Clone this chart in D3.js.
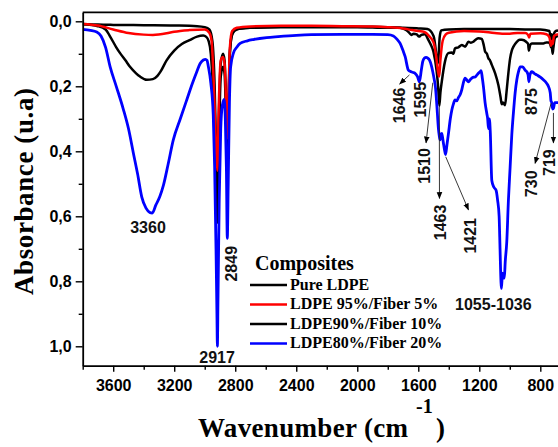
<!DOCTYPE html>
<html>
<head>
<meta charset="utf-8">
<script src="https://cdn.jsdelivr.net/npm/d3@7"></script>
<style>
  html, body { margin: 0; padding: 0; background: #fff; }
  svg { display: block; }
</style>
</head>
<body>
<svg id="chart" width="558" height="447"></svg>
<script>
// ---------------- DATA ----------------
// [wavenumber (cm-1), absorbance]
const pureLDPE = [
  [3800,0.008],[3700,0.010],[3600,0.011],[3400,0.012],[3200,0.013],[3050,0.015],[3000,0.018],
  [2970,0.025],[2950,0.06],[2935,0.2],[2925,0.4],[2917,0.52],[2910,0.35],[2895,0.13],[2880,0.1],
  [2870,0.12],[2860,0.25],[2852,0.4],[2845,0.3],[2835,0.1],[2820,0.04],[2800,0.025],[2700,0.02],
  [2500,0.018],[2200,0.018],[2000,0.018],[1800,0.02],[1700,0.02],[1600,0.022],[1540,0.024],
  [1500,0.045],[1485,0.09],[1478,0.125],[1472,0.13],[1466,0.1],[1460,0.05],[1450,0.028],
  [1400,0.025],[1300,0.024],[1200,0.024],[1100,0.024],[1000,0.024],[900,0.025],[800,0.025],
  [740,0.03],[730,0.06],[725,0.04],[719,0.09],[712,0.04],[700,0.03],[684,0.028]
];
const ldpe95 = [
  [3800,0.008],[3700,0.013],[3600,0.025],[3500,0.036],[3400,0.041],[3340,0.042],[3250,0.037],
  [3200,0.032],[3100,0.027],[3000,0.025],[2970,0.035],[2955,0.06],[2940,0.2],[2925,0.4],
  [2917,0.46],[2910,0.3],[2895,0.12],[2880,0.11],[2870,0.13],[2860,0.25],[2852,0.36],[2845,0.25],
  [2835,0.08],[2820,0.03],[2790,0.02],[2700,0.016],[2500,0.014],[2300,0.014],[2100,0.015],
  [1900,0.016],[1800,0.018],[1700,0.022],[1640,0.027],[1600,0.03],[1560,0.033],[1530,0.045],
  [1500,0.065],[1485,0.1],[1472,0.15],[1463,0.17],[1455,0.12],[1440,0.06],[1420,0.04],
  [1400,0.035],[1300,0.03],[1200,0.031],[1100,0.036],[1050,0.038],[1000,0.038],[950,0.036],
  [900,0.036],[880,0.042],[873,0.05],[865,0.038],[800,0.037],[760,0.04],[740,0.05],[730,0.075],
  [722,0.06],[719,0.07],[710,0.045],[684,0.04]
];
const ldpe90 = [
  [3800,0.009],[3700,0.015],[3650,0.025],[3620,0.047],[3580,0.08],[3555,0.098],[3520,0.12],
  [3490,0.14],[3450,0.16],[3424,0.17],[3380,0.18],[3340,0.178],[3310,0.168],[3290,0.155],
  [3250,0.12],[3200,0.09],[3150,0.07],[3100,0.058],[3050,0.047],[3010,0.044],[2990,0.048],
  [2975,0.06],[2960,0.1],[2945,0.22],[2930,0.45],[2917,0.62],[2908,0.4],[2895,0.17],[2880,0.14],
  [2870,0.16],[2860,0.3],[2852,0.48],[2845,0.3],[2835,0.09],[2820,0.04],[2790,0.025],[2700,0.02],
  [2500,0.017],[2200,0.017],[1900,0.017],[1800,0.018],[1720,0.02],[1680,0.027],[1660,0.035],
  [1646,0.042],[1630,0.038],[1610,0.04],[1595,0.047],[1580,0.042],[1557,0.04],[1534,0.057],
  [1520,0.07],[1501,0.093],[1479,0.155],[1470,0.2],[1462,0.26],[1455,0.22],[1446,0.186],
  [1425,0.124],[1403,0.098],[1380,0.096],[1370,0.1],[1359,0.083],[1337,0.08],[1315,0.073],
  [1293,0.078],[1271,0.063],[1255,0.066],[1239,0.063],[1220,0.055],[1206,0.052],[1184,0.054],
  [1170,0.075],[1162,0.093],[1150,0.1],[1140,0.114],[1130,0.12],[1118,0.134],[1096,0.16],
  [1075,0.196],[1060,0.235],[1053,0.255],[1045,0.25],[1031,0.258],[1022,0.22],[1015,0.186],
  [998,0.114],[987,0.09],[976,0.078],[954,0.063],[935,0.057],[921,0.057],[893,0.063],[880,0.07],
  [875,0.09],[868,0.075],[856,0.068],[823,0.068],[780,0.068],[760,0.065],[747,0.065],[735,0.07],
  [730,0.08],[725,0.078],[719,0.1],[714,0.08],[703,0.05],[684,0.045]
];
const ldpe80 = [
  [3800,0.025],[3750,0.028],[3708,0.033],[3680,0.045],[3650,0.08],[3620,0.14],[3580,0.2],
  [3534,0.27],[3500,0.33],[3468,0.405],[3440,0.47],[3413,0.54],[3385,0.575],[3360,0.588],
  [3344,0.59],[3320,0.565],[3295,0.54],[3271,0.505],[3240,0.44],[3206,0.365],[3160,0.3],
  [3118,0.242],[3080,0.19],[3052,0.155],[3030,0.13],[3009,0.119],[2995,0.117],[2985,0.12],
  [2976,0.14],[2960,0.19],[2944,0.29],[2935,0.45],[2926,0.7],[2920,0.9],[2917,1.0],[2913,0.85],
  [2905,0.55],[2895,0.33],[2885,0.26],[2873,0.24],[2865,0.3],[2858,0.45],[2852,0.668],
  [2846,0.5],[2838,0.25],[2830,0.14],[2812,0.098],[2790,0.08],[2768,0.068],[2720,0.06],
  [2681,0.056],[2594,0.05],[2519,0.047],[2400,0.043],[2300,0.041],[2100,0.04],[1900,0.04],
  [1800,0.041],[1763,0.045],[1740,0.055],[1719,0.068],[1700,0.09],[1686,0.109],[1665,0.15],
  [1647,0.155],[1630,0.158],[1621,0.16],[1605,0.17],[1593,0.186],[1580,0.15],[1571,0.124],
  [1560,0.113],[1549,0.111],[1538,0.113],[1527,0.119],[1515,0.135],[1505,0.155],[1495,0.18],
  [1488,0.2],[1478,0.26],[1468,0.33],[1463,0.35],[1457,0.365],[1452,0.35],[1446,0.345],
  [1440,0.36],[1435,0.375],[1428,0.395],[1421,0.41],[1412,0.38],[1402,0.345],[1390,0.3],
  [1380,0.273],[1370,0.255],[1359,0.242],[1348,0.245],[1337,0.235],[1325,0.225],[1315,0.211],
  [1305,0.19],[1293,0.175],[1283,0.18],[1271,0.186],[1260,0.18],[1249,0.175],[1238,0.172],
  [1228,0.172],[1215,0.165],[1206,0.16],[1195,0.155],[1188,0.152],[1180,0.175],[1173,0.2],
  [1162,0.25],[1151,0.283],[1145,0.3],[1140,0.33],[1134,0.3],[1128,0.34],[1118,0.49],
  [1105,0.51],[1090,0.52],[1080,0.55],[1070,0.6],[1064,0.7],[1058,0.8],[1055,0.822],
  [1048,0.775],[1042,0.786],[1036,0.79],[1030,0.74],[1020,0.68],[1009,0.55],[998,0.45],
  [987,0.35],[976,0.28],[965,0.22],[954,0.18],[943,0.155],[932,0.14],[915,0.14],[900,0.15],
  [889,0.155],[880,0.165],[875,0.186],[868,0.165],[856,0.155],[840,0.16],[823,0.165],
  [800,0.172],[780,0.18],[760,0.19],[747,0.2],[735,0.22],[730,0.245],[725,0.25],[719,0.27],
  [714,0.268],[705,0.25],[697,0.25],[684,0.25]
];
const seriesNames = ["Pure LDPE", "LDPE 95%/Fiber 5%", "LDPE90%/Fiber 10%", "LDPE80%/Fiber 20%"];
const seriesColors = ["#000000", "#ff0000", "#000000", "#0000ff"];
const xMajorTicks = [3600, 3200, 2800, 2400, 2000, 1600, 1200, 800];
const xMinorTicks = [3800, 3400, 3000, 2600, 2200, 1800, 1400, 1000];
const yMajorTicks = [0, 0.2, 0.4, 0.6, 0.8, 1.0];
const yMinorTicks = [0.1, 0.3, 0.5, 0.7, 0.9];
// peak labels: text, wavenumber, absorbance, rotated?
const peakLabels = [
  ["3360", 3372, 0.651, false],
  ["2917", 2919, 1.051, false],
  ["2849", 2827, 0.746, true],
  ["1646", 1726, 0.259, true],
  ["1595", 1588, 0.241, true],
  ["1510", 1559, 0.445, true],
  ["1463", 1457, 0.619, true],
  ["1421", 1257, 0.660, true],
  ["1055-1036", 1108, 0.888, false],
  ["875", 861, 0.247, true],
  ["730", 857, 0.500, true],
  ["719", 742, 0.435, true]
];
// arrows: from (wn, abs) to (wn, abs), head at the label end
const peakArrows = [
  [1658, 0.165, 1722, 0.193],
  [1505, 0.189, 1549, 0.374],
  [1462, 0.263, 1461, 0.545],
  [1420, 0.417, 1271, 0.580],
  [729, 0.252, 834, 0.437],
  [714, 0.282, 714, 0.374]
];

// ---------------- CHART ----------------
const svg = d3.select("#chart");
const mL = 82.7, mR = 558, mT = 12.3, mB = 365.7;
const x = d3.scaleLinear().domain([3800, 684]).range([mL, mR]);
const y = d3.scaleLinear().domain([-0.0277, 1.0597]).range([mT, mB]);

const defs = svg.append("defs");
defs.append("clipPath").attr("id", "plotclip").append("rect")
  .attr("x", mL).attr("y", mT).attr("width", mR - mL).attr("height", mB - mT);
defs.append("marker").attr("id", "arrowhead").attr("viewBox", "0 0 10 10")
  .attr("refX", 9).attr("refY", 5).attr("markerWidth", 7).attr("markerHeight", 7)
  .attr("orient", "auto").attr("markerUnits", "userSpaceOnUse")
  .append("path").attr("d", "M0,1 L10,5 L0,9 Z").attr("fill", "#000");

const line = d3.line().x(d => x(d[0])).y(d => y(d[1])).curve(d3.curveMonotoneX);
const allSeries = [pureLDPE, ldpe95, ldpe90, ldpe80];
const drawOrder = [0, 2, 1, 3];
const gLines = svg.append("g").attr("clip-path", "url(#plotclip)");
drawOrder.forEach(i => {
  gLines.append("path").datum(allSeries[i])
    .attr("d", line).attr("fill", "none")
    .attr("stroke", seriesColors[i])
    .attr("stroke-width", i === 3 ? 2.8 : 2.5)
    .attr("stroke-linejoin", "round");
});

// axes
const tickFont = "'Liberation Sans', Arial, sans-serif";
svg.append("g").attr("transform", `translate(${mL},0)`)
  .call(d3.axisLeft(y).tickValues(yMajorTicks).tickSize(7).tickSizeOuter(0).tickPadding(4)
    .tickFormat(d => d3.format(".1f")(d).replace(".", ",")));
svg.append("g").attr("transform", `translate(${mL},0)`)
  .call(d3.axisLeft(y).tickValues(yMinorTicks).tickSize(4).tickSizeOuter(0).tickFormat(""))
  .call(g => g.select(".domain").remove());
svg.append("g").attr("transform", `translate(0,${mB})`)
  .call(d3.axisBottom(x).tickValues(xMajorTicks).tickSize(6).tickSizeOuter(0).tickPadding(8)
    .tickFormat(d3.format("d")));
svg.append("g").attr("transform", `translate(0,${mB})`)
  .call(d3.axisBottom(x).tickValues(xMinorTicks).tickSize(4).tickSizeOuter(0).tickFormat(""))
  .call(g => g.select(".domain").remove());
svg.selectAll(".domain").attr("stroke-width", 1.8);
svg.selectAll(".tick line").attr("stroke-width", 1.4);
svg.selectAll(".tick text").attr("font-family", tickFont).attr("font-size", 16)
  .attr("font-weight", "bold").attr("fill", "#000");
// top frame
svg.append("line").attr("x1", mL).attr("x2", mR).attr("y1", mT).attr("y2", mT)
  .attr("stroke", "#000").attr("stroke-width", 1.8);

// peak arrows
svg.append("g").selectAll("line").data(peakArrows).join("line")
  .attr("x1", d => x(d[0])).attr("y1", d => y(d[1]))
  .attr("x2", d => x(d[2])).attr("y2", d => y(d[3]))
  .attr("stroke", "#222").attr("stroke-width", 0.9)
  .attr("marker-end", "url(#arrowhead)");

// peak labels
svg.append("g").selectAll("text").data(peakLabels).join("text")
  .attr("transform", d => d[3]
      ? `translate(${x(d[1])},${y(d[2])}) rotate(-90)`
      : `translate(${x(d[1])},${y(d[2])})`)
  .attr("text-anchor", "middle")
  .attr("dy", d => d[3] ? "0.36em" : 0)
  .attr("font-family", tickFont).attr("font-size", 16).attr("font-weight", "bold")
  .attr("fill", "#111")
  .text(d => d[0]);

// legend
const serif = "'Liberation Serif', 'Times New Roman', serif";
const lg = svg.append("g");
lg.append("text").attr("x", 255).attr("y", 270).attr("font-family", serif)
  .attr("font-size", 20).attr("font-weight", "bold").text("Composites");
seriesNames.forEach((name, i) => {
  const yy = 285 + i * 19.5;
  lg.append("line").attr("x1", 250).attr("x2", 287).attr("y1", yy).attr("y2", yy)
    .attr("stroke", seriesColors[i]).attr("stroke-width", 2.5);
  lg.append("text").attr("x", 290).attr("y", yy + 4.8).attr("font-family", serif)
    .attr("font-size", 16).attr("font-weight", "bold").text(name);
});

// helper: spread letters so a text reaches a target width
function fitWidth(sel, target) {
  const node = sel.node();
  const w = node.getComputedTextLength();
  const n = node.textContent.length;
  if (n > 1 && w < target) sel.attr("letter-spacing", ((target - w) / (n - 1)).toFixed(2));
}

// axis titles
const yt = svg.append("text").attr("transform", "translate(33,88) rotate(-90)")
  .attr("text-anchor", "start").attr("font-family", serif).attr("font-size", 27)
  .attr("font-weight", "bold").text("Absorbance (u.a)");
yt.attr("transform", "translate(33,295) rotate(-90)");
fitWidth(yt, 207);
const xt = svg.append("text").attr("x", 198).attr("y", 437)
  .attr("font-family", serif).attr("font-size", 27).attr("font-weight", "bold")
  .text("Wavenumber (cm");
fitWidth(xt, 210);
svg.append("text").attr("x", 416).attr("y", 413)
  .attr("font-family", serif).attr("font-size", 20).attr("font-weight", "bold").text("-1");
svg.append("text").attr("x", 436).attr("y", 437)
  .attr("font-family", serif).attr("font-size", 27).attr("font-weight", "bold").text(")");
</script>
</body>
</html>
